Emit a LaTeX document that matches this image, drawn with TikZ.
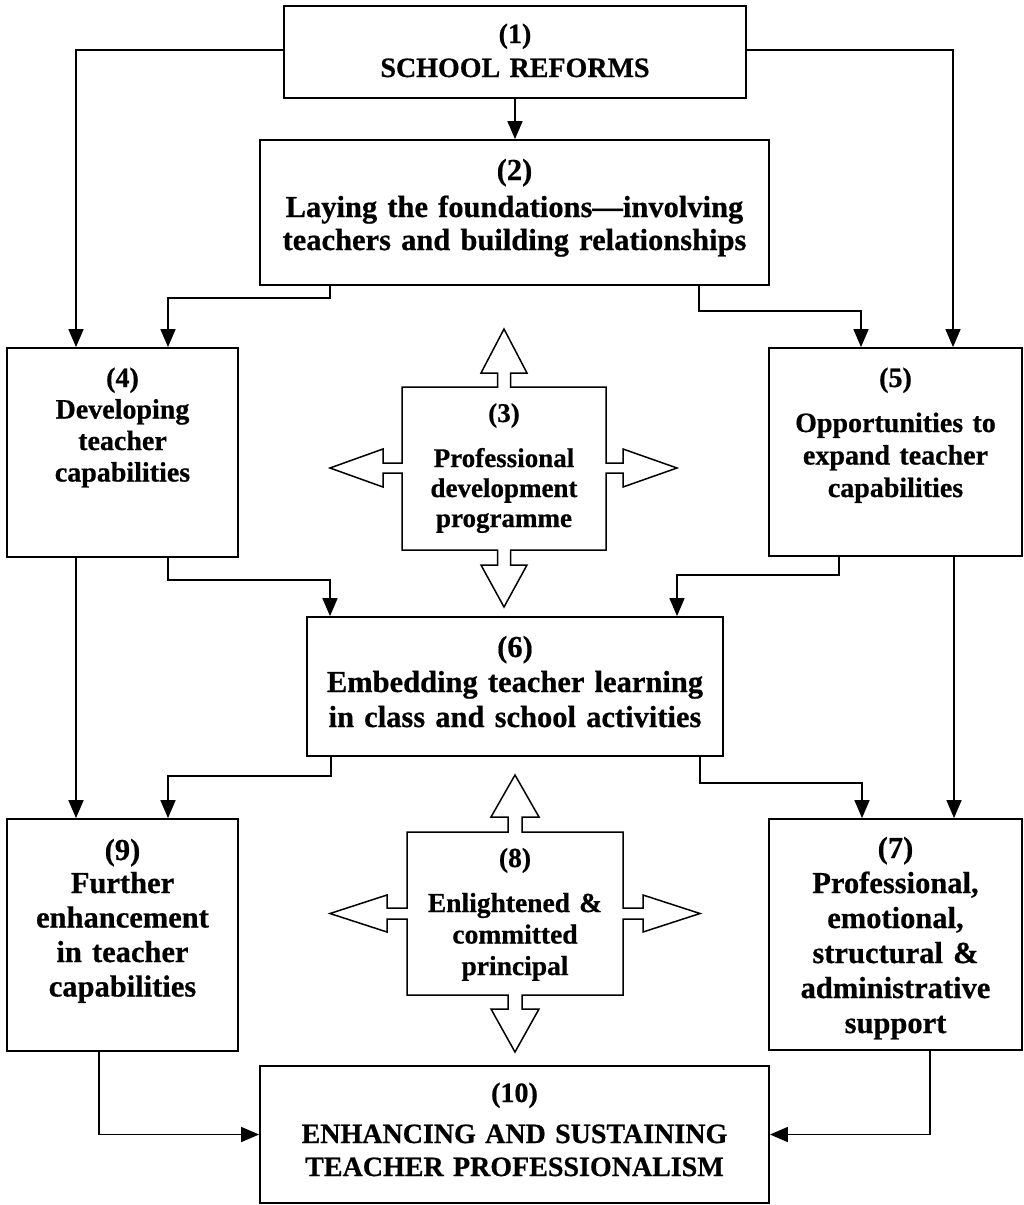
\documentclass[tikz,border=0pt]{standalone}
\usepackage{fontspec}
\setmainfont{Liberation Serif}[BoldFeatures={FakeBold=0.6}]
\usetikzlibrary{arrows.meta}
\begin{document}
\begin{tikzpicture}[x=1pt,y=-1pt,
  box/.style={draw, line width=1.8pt, inner sep=0pt},
  arr/.style={line width=1.6pt, -{Triangle[length=18pt,width=15pt]}},
  quad/.style={draw, line width=1.5pt, line join=miter},
  txt/.style={inner sep=0pt, align=center, text width=480pt, anchor=base},
]
\useasboundingbox (0,0) rectangle (1024,1205);

% boxes
\node[box, minimum width=462pt, minimum height=92pt]  (b1)  at (515,52) {};
\node[box, minimum width=509pt, minimum height=145pt] (b2)  at (514.5,212.5) {};
\node[box, minimum width=231pt, minimum height=209pt] (b4)  at (122.5,452.5) {};
\node[box, minimum width=253pt, minimum height=208pt] (b5)  at (895.5,452) {};
\node[box, minimum width=416pt, minimum height=139pt] (b6)  at (515,686.5) {};
\node[box, minimum width=231pt, minimum height=232pt] (b9)  at (122.5,935) {};
\node[box, minimum width=253pt, minimum height=231pt] (b7)  at (895.5,934.5) {};
\node[box, minimum width=509pt, minimum height=137pt] (b10) at (514.5,1134.5) {};

% quad arrows
\draw[quad] (402,387) -- (497.5,387) -- (497.5,373) -- (481,373) -- (504,329) -- (527,373) -- (510.5,373) -- (510.5,387)
  -- (606,387) -- (606,463) -- (623,463) -- (623,449) -- (677,468) -- (623,487) -- (623,473) -- (606,473)
  -- (606,550) -- (510.5,550) -- (510.5,565) -- (527,565) -- (504,607) -- (481,565) -- (497.5,565) -- (497.5,550)
  -- (402,550) -- (402,473) -- (383,473) -- (383,487) -- (330,468) -- (383,449) -- (383,463) -- (402,463) -- cycle;
\draw[quad] (407,832) -- (508,832) -- (508,817) -- (491,817) -- (515,775) -- (539,817) -- (522,817) -- (522,832)
  -- (623,832) -- (623,908) -- (643,908) -- (643,895) -- (700,913.5) -- (643,932) -- (643,919) -- (623,919)
  -- (623,995) -- (522,995) -- (522,1009) -- (539,1009) -- (515,1052) -- (491,1009) -- (508,1009) -- (508,995)
  -- (407,995) -- (407,919) -- (387,919) -- (387,932) -- (330,913.5) -- (387,895) -- (387,908) -- (407,908) -- cycle;

% texts
\node[txt, font=\bfseries\fontsize{28}{34}\selectfont] (t1) at (515,43) {(1)\\SCHOOL REFORMS};
\node[txt, font=\bfseries\fontsize{30.5}{33}\selectfont] (t2) at (514.5,180) {(2)\\[4pt]Laying the foundations—involving\\teachers and building relationships};
\node[txt, font=\bfseries\fontsize{28}{31.5}\selectfont] (t4) at (122.5,387) {(4)\\Developing\\teacher\\capabilities};
\node[txt, font=\bfseries\fontsize{28}{32.5}\selectfont] (t5) at (895.5,387) {(5)\\[12.5pt]Opportunities to\\expand teacher\\capabilities};
\node[txt, font=\bfseries\fontsize{27}{30}\selectfont] (t3) at (504,422) {(3)\\[15pt]Professional\\development\\programme};
\node[txt, font=\bfseries\fontsize{30.5}{35}\selectfont] (t6) at (515,657) {(6)\\Embedding teacher learning\\in class and school activities};
\node[txt, font=\bfseries\fontsize{30.5}{34.5}\selectfont] (t9) at (122.5,860) {(9)\\[-1.5pt]Further\\enhancement\\in teacher\\capabilities};
\node[txt, font=\bfseries\fontsize{30.5}{35}\selectfont] (t7) at (895.5,858) {(7)\\Professional,\\emotional,\\structural \&\\administrative\\support};
\node[txt, font=\bfseries\fontsize{27.5}{31.5}\selectfont] (t8) at (515,867) {(8)\\[13.5pt]Enlightened \&\\committed\\principal};
\node[txt, font=\bfseries\fontsize{28}{33}\selectfont] (t10) at (514.5,1102) {(10)\\[8pt]ENHANCING AND SUSTAINING\\TEACHER PROFESSIONALISM};

% connectors
\draw[arr] (b1.south) -- (b1.south |- b2.north);
\draw[arr] ([yshift=2pt]b1.west) -| ([xshift=-46.5pt]b4.north);
\draw[arr] ([yshift=2pt]b1.east) -| ([xshift=57.5pt]b5.north);
\draw[arr] ([xshift=-184.5pt]b2.south) -- ++(0,12) -| ([xshift=45.5pt]b4.north);
\draw[arr] ([xshift=184.5pt]b2.south) -- ++(0,25) -| ([xshift=-34.5pt]b5.north);
\draw[arr] ([xshift=45.5pt]b4.south) -- ++(0,22) -| ([xshift=-185pt]b6.north);
\draw[arr] ([xshift=-46.5pt]b4.south) -- ([xshift=-46.5pt]b9.north);
\draw[arr] ([xshift=-56.5pt]b5.south) -- ++(0,18) -| ([xshift=162pt]b6.north);
\draw[arr] ([xshift=58.5pt]b5.south) -- ([xshift=58.5pt]b7.north);
\draw[arr] ([xshift=-184pt]b6.south) -- ++(0,19) -| ([xshift=45.5pt]b9.north);
\draw[arr] ([xshift=185pt]b6.south) -- ++(0,26) -| ([xshift=-33.5pt]b7.north);
\draw[arr] ([xshift=-23.5pt]b9.south) |- (b10.west);
\draw[arr] ([xshift=34.5pt]b7.south) |- (b10.east);
\end{tikzpicture}
\end{document}
